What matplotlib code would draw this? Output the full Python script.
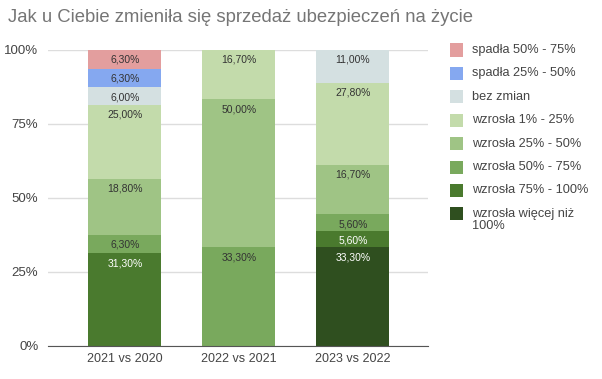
import matplotlib
matplotlib.use("Agg")
import matplotlib.pyplot as plt
import numpy as np
from matplotlib.patches import Rectangle

plt.rcParams["font.family"] = ["Liberation Sans", "DejaVu Sans"]

categories = ["2021 vs 2020", "2022 vs 2021", "2023 vs 2022"]

# bottom to top of each stack
series = [
    "wzrosła więcej niż\n100%",
    "wzrosła 75% - 100%",
    "wzrosła 50% - 75%",
    "wzrosła 25% - 50%",
    "wzrosła 1% - 25%",
    "bez zmian",
    "spadła 25% - 50%",
    "spadła 50% - 75%",
]
values = {
    "wzrosła więcej niż\n100%": [0, 0, 33.3],
    "wzrosła 75% - 100%": [31.3, 0, 5.6],
    "wzrosła 50% - 75%": [6.3, 33.3, 5.6],
    "wzrosła 25% - 50%": [18.8, 50.0, 16.7],
    "wzrosła 1% - 25%": [25.0, 16.7, 27.8],
    "bez zmian": [6.0, 0, 11.0],
    "spadła 25% - 50%": [6.3, 0, 0],
    "spadła 50% - 75%": [6.3, 0, 0],
}
colors = ["#2f4f1f", "#4a7a2e", "#79a95d", "#9fc485", "#c3dbab",
          "#d4e0e1", "#85a8f0", "#e39e9e"]
white_text = {"wzrosła więcej niż\n100%", "wzrosła 75% - 100%"}

W, H = 602, 379
fig = plt.figure(figsize=(W / 100, H / 100), dpi=100)
ax = fig.add_axes([48 / W, 1 - 346 / H, 380 / W, 296 / H])

x = np.arange(len(categories))
bottom = np.zeros(len(categories))
for name, col in zip(series, colors):
    vals = np.array(values[name])
    ax.bar(x, vals, 0.64, bottom=bottom, color=col, zorder=2)
    for xi, v, b in zip(x, vals, bottom):
        if v > 0:
            ax.annotate(f"{v:.2f}%".replace(".", ","), (xi, b + v),
                        xytext=(0, -3.5), textcoords="offset points",
                        ha="center", va="top", fontsize=7.5,
                        color="white" if name in white_text else "#333333",
                        zorder=3)
    bottom += vals

ax.set_xlim(-0.675, 2.66)
ax.set_ylim(0, 100)
ax.set_yticks([0, 25, 50, 75, 100])
ax.set_yticklabels(["0%", "25%", "50%", "75%", "100%"])
ax.set_xticks(x)
ax.set_xticklabels(categories)
ax.tick_params(length=0, labelsize=9, colors="#444444")
ax.tick_params(axis="y", pad=7, labelsize=9.5)
ax.tick_params(axis="x", pad=5)
ax.grid(axis="y", color="#dddddd", lw=1, zorder=0)
for s in ["top", "right", "left"]:
    ax.spines[s].set_visible(False)
ax.spines["bottom"].set_color("#555555")
ax.spines["bottom"].set_zorder(4)

fig.text(8 / W, 1 - 17 / H, "Jak u Ciebie zmieniła się sprzedaż ubezpieczeń na życie",
         fontsize=13.3, color="#757575", va="center", ha="left")

# legend drawn by hand so the last square lines up with its first text line
for i, (name, col) in enumerate(zip(series[::-1], colors[::-1])):
    yc = 50 + i * 23.4
    fig.add_artist(Rectangle((450 / W, 1 - (yc + 6.5) / H), 13 / W, 13 / H,
                             facecolor=col, edgecolor="none",
                             transform=fig.transFigure))
    fig.text(472 / W, 1 - (yc - 6) / H, name, fontsize=9.2, color="#444444",
             ha="left", va="top", linespacing=1.05)

fig.savefig("out.png", dpi=100)
